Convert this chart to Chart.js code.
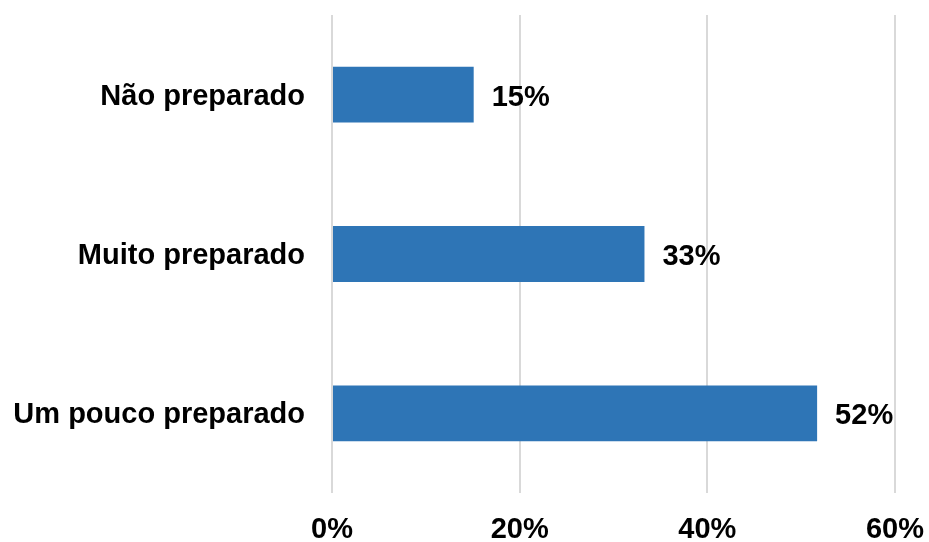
<!DOCTYPE html>
<html>
<head>
<meta charset="utf-8">
<script src="https://cdn.jsdelivr.net/npm/chart.js@4"></script>
<style>
  html, body { margin: 0; padding: 0; background: #fff; }
  #chart { display: block; }
</style>
</head>
<body>
<canvas id="chart" width="929" height="542"></canvas>
<script>
  "use strict";

  const categories = ["Não preparado", "Muito preparado", "Um pouco preparado"];
  const values = [15.1, 33.3, 51.7];
  const xTicks = [0, 20, 40, 60];

  const FONT = "'Liberation Sans', Arial, sans-serif";
  const BAR = "#2E75B6";
  const GRID = "#D9D9D9";

  // no auto padding from tick labels, chart area comes from layout padding only
  const noPad = (scale) => {
    scale.paddingTop = 0;
    scale.paddingBottom = 0;
    scale.paddingLeft = 0;
    scale.paddingRight = 0;
  };

  const valueLabels = {
    id: "valueLabels",
    afterDatasetsDraw(chart) {
      const ctx = chart.ctx;
      const meta = chart.getDatasetMeta(0);
      ctx.save();
      ctx.font = `bold 29px ${FONT}`;
      ctx.fillStyle = "#000";
      ctx.textAlign = "left";
      ctx.textBaseline = "middle";
      meta.data.forEach((bar, i) => {
        ctx.fillText(`${Math.round(values[i])}%`, bar.x + 18, bar.y + 3);
      });
      ctx.restore();
    }
  };

  Chart.defaults.color = "#000";
  Chart.defaults.font.family = FONT;

  new Chart(document.getElementById("chart"), {
    type: "bar",
    data: {
      labels: categories,
      datasets: [{
        data: values,
        backgroundColor: BAR,
        borderWidth: 0,
        barPercentage: 0.35,
        categoryPercentage: 1
      }]
    },
    options: {
      indexAxis: "y",
      responsive: false,
      animation: false,
      layout: { padding: { top: 15, right: 34, left: 0, bottom: 0 } },
      plugins: { legend: { display: false }, tooltip: { enabled: false } },
      scales: {
        x: {
          min: 0,
          max: 60,
          afterBuildTicks: (scale) => { scale.ticks = xTicks.map((v) => ({ value: v })); },
          afterFit: (scale) => { scale.height = 49; noPad(scale); },
          grid: { color: GRID, lineWidth: 2, drawTicks: false },
          border: { display: false },
          ticks: {
            padding: 20,
            font: { size: 29, weight: "bold" },
            callback: (v) => `${v}%`
          }
        },
        y: {
          afterFit: (scale) => { scale.width = 332; noPad(scale); },
          grid: { display: false, drawTicks: false },
          border: { display: false },
          ticks: {
            padding: 27,
            labelOffset: 2,
            font: { size: 29, weight: "bold" }
          }
        }
      }
    },
    plugins: [valueLabels]
  });
</script>
</body>
</html>
